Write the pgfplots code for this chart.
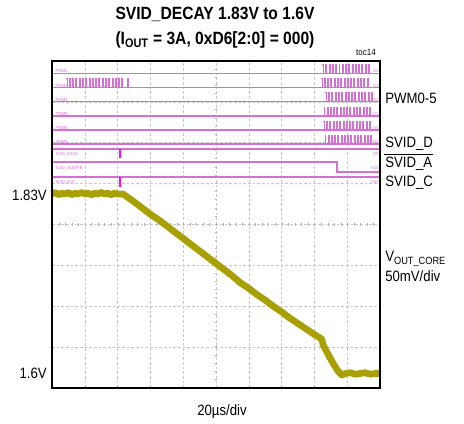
\documentclass[border=0pt]{standalone}
\usepackage{pgfplots}
\pgfplotsset{compat=1.18}
\usepackage{pgfplotstable}
\usepackage{fontspec}
\setmainfont{Liberation Sans}[FakeStretch=0.88]
\definecolor{pwm}{RGB}{212,112,212}
\definecolor{mk}{RGB}{255,0,255}
\definecolor{vout}{RGB}{168,160,5}
\definecolor{gridc}{RGB}{200,200,200}
\tikzset{tl/.style={text=pwm, font=\fontsize{3.4}{3.4}\selectfont, inner sep=0.3pt}}

% PWM pulse train (right group), times relative to burst start, us
\pgfplotstableread{
t lvl
0 1
0.6 0
2 1
2.6 0
4 1
4.6 0
6 1
6.6 0
8 1
8.6 0
10 1
10.6 0
12 1
12.6 0
14 1
14.6 0
16 1
16.6 0
18 1
18.6 0
20 1
20.6 0
22 1
22.6 0
24 1
24.6 0
26 1
26.6 0
28 1
28.6 0
}\rightpulse

% PWM2 pulse train (left group), us
\pgfplotstableread{
t lvl
8.5 1
9.1 0
10.5 1
11.1 0
12.5 1
13.1 0
14.5 1
15.1 0
16.5 1
17.1 0
18.5 1
19.1 0
20.5 1
21.1 0
22.5 1
23.1 0
24.5 1
25.1 0
26.5 1
27.1 0
28.5 1
29.1 0
30.5 1
31.1 0
32.5 1
33.1 0
34.5 1
35.1 0
36.5 1
37.1 0
38.5 1
39.1 0
40.5 1
41.1 0
42.5 1
43.1 0
45.9 1
46.5 0
}\leftpulse

% V_OUT_CORE: time (us), volts
\pgfplotstableread{
t v
0 1.830
2 1.832
4 1.829
6 1.831
8 1.830
10 1.832
12 1.829
14 1.831
16 1.830
18 1.832
20 1.830
22 1.831
24 1.829
26 1.831
28 1.830
30 1.832
32 1.830
34 1.831
36 1.829
38 1.831
40 1.830
43.3 1.830
46 1.826
50 1.820
55 1.812
60 1.804
65 1.797
70 1.789
75 1.781
80 1.773
85 1.765
90 1.757
95 1.749
100 1.741
105 1.733
110 1.725
115 1.716
120 1.709
125 1.701
130 1.694
135 1.686
140 1.679
145 1.671
150 1.664
155 1.657
160 1.650
164.6 1.644
165.2 1.637
167 1.630
169.5 1.620
172 1.611
174.4 1.603
176.8 1.598
179 1.600
182 1.601
185 1.599
188 1.600
191 1.601
194 1.599
197 1.600
200 1.600
}\vout

\begin{document}
\begin{tikzpicture}
\useasboundingbox (0,0) rectangle (348pt,318pt);

% ---------- grid + digital traces (y in divisions) ----------
\begin{axis}[
  scale only axis, width=246pt, height=245.25pt,
  at={(39pt,27pt)}, anchor=south west,
  xmin=0, xmax=200, ymin=0, ymax=8,
  xtick={0,20,...,200}, ytick={0,1,...,8},
  xticklabel=\empty, yticklabel=\empty,
  major tick length=0pt,
  grid=major,
  major grid style={gridc, dash pattern=on 2pt off 1.5pt, line width=0.4pt},
  axis line style={draw=none},
  clip=false,
]
% centre graticule tick marks
\draw[gray!60, line width=2.2pt, dash pattern=on 0.5pt off 4.42pt] (axis cs:0,4) -- (axis cs:200,4);
\draw[gray!60, line width=2.2pt, dash pattern=on 0.5pt off 5.63pt] (axis cs:100,0) -- (axis cs:100,8);

% PWM baselines
\addplot[pwm, line width=0.9pt] coordinates {(0,7.700) (200,7.700)};
\addplot[pwm, line width=0.9pt] coordinates {(0,7.347) (200,7.347)};
\addplot[pwm, line width=0.9pt] coordinates {(0,7.004) (200,7.004)};
\addplot[pwm, line width=0.9pt] coordinates {(0,6.654) (200,6.654)};
\addplot[pwm, line width=0.9pt] coordinates {(0,6.312) (200,6.312)};
\addplot[pwm, line width=0.9pt] coordinates {(0,5.969) (200,5.969)};
% PWM bursts
\addplot[pwm, line width=0.5pt, const plot] table[x expr=\thisrow{t}+164.9, y expr=7.700+0.22*\thisrow{lvl}] \rightpulse;
\addplot[pwm, line width=0.5pt, const plot] table[x expr=\thisrow{t}+164.0, y expr=7.347+0.22*\thisrow{lvl}] \rightpulse;
\addplot[pwm, line width=0.5pt, const plot] table[x expr=\thisrow{t}+166.6, y expr=7.004+0.22*\thisrow{lvl}] \rightpulse;
\addplot[pwm, line width=0.5pt, const plot] table[x expr=\thisrow{t}+165.6, y expr=6.654+0.22*\thisrow{lvl}] \rightpulse;
\addplot[pwm, line width=0.5pt, const plot] table[x expr=\thisrow{t}+165.4, y expr=6.312+0.22*\thisrow{lvl}] \rightpulse;
\addplot[pwm, line width=0.5pt, const plot] table[x expr=\thisrow{t}+166.2, y expr=5.969+0.22*\thisrow{lvl}] \rightpulse;
\addplot[pwm, line width=0.5pt, const plot] table[x=t, y expr=7.347+0.22*\thisrow{lvl}] \leftpulse;

% SVID lines
\addplot[pwm, line width=0.9pt] coordinates {(0,5.847) (200,5.847)};
\addplot[pwm, line width=0.9pt] coordinates {(0,5.529) (173.8,5.529) (173.8,5.284) (200,5.284)};
\addplot[pwm, line width=0.9pt] coordinates {(0,5.162) (200,5.162)};
\addplot[mk, line width=1.6pt] coordinates {(41.5,5.847) (41.5,5.627)};
\addplot[mk, line width=1.6pt] coordinates {(41.5,5.162) (41.5,4.917)};

% tiny trace labels
\node[tl, anchor=south west] at (axis cs:1.8,7.700) {PWM1};
\node[tl, anchor=south west] at (axis cs:1.8,7.347) {PWM2};
\node[tl, anchor=south west] at (axis cs:1.8,7.004) {PWM3};
\node[tl, anchor=south west] at (axis cs:1.8,6.654) {PWM4};
\node[tl, anchor=south west] at (axis cs:1.8,6.312) {PWM5};
\node[tl, anchor=south west] at (axis cs:1.8,5.969) {PWM6};
\node[tl, anchor=west] at (axis cs:1.8,5.725) {SVID\_DATA};
\node[tl, anchor=west] at (axis cs:1.8,5.382) {SVID\_ALERTB};
\node[tl, anchor=west] at (axis cs:1.8,5.040) {SVID\_CLK};
\node[tl, anchor=south east] at (axis cs:199.5,7.700) {D0};
\node[tl, anchor=south east] at (axis cs:199.5,7.347) {D1};
\node[tl, anchor=south east] at (axis cs:199.5,7.004) {D2};
\node[tl, anchor=south east] at (axis cs:199.5,6.654) {D3};
\node[tl, anchor=south east] at (axis cs:199.5,6.312) {D4};
\node[tl, anchor=south east] at (axis cs:199.5,5.969) {D5};
\node[tl, anchor=east] at (axis cs:199.5,5.725) {D9};
\node[tl, anchor=east] at (axis cs:199.5,5.382) {D10};
\node[tl, anchor=east] at (axis cs:199.5,5.040) {D11};
\end{axis}

% ---------- analog trace (volts) ----------
\begin{axis}[
  scale only axis, width=246pt, height=245.25pt,
  at={(39pt,27pt)}, anchor=south west,
  xmin=0, xmax=200, ymin=1.5814, ymax=2.0004,
  hide axis, clip=false,
]
\addplot[vout, line width=5pt, line join=round] table[x=t, y=v] \vout;
\draw[black, line width=1.2pt] (rel axis cs:0,1) -- (rel axis cs:0,0) -- (rel axis cs:1,0) -- (rel axis cs:1,1) -- cycle;
\end{axis}

% ---------- texts (pixel coordinates, origin top-left) ----------
\begin{scope}[shift={(0,318pt)}, x=0.75pt, y=-0.75pt]
\node[anchor=base, font=\bfseries\fontsize{13.3}{14}\selectfont, inner sep=0] at (215,19.3) {SVID\_DECAY 1.83V to 1.6V};
\node[anchor=base, font=\bfseries\fontsize{13.3}{14}\selectfont, inner sep=0] at (215,44.3) {(I\textsubscript{OUT} = 3A, 0xD6[2:0] = 000)};
\node[anchor=base, font=\fontsize{6.8}{7}\selectfont, inner sep=0] at (366,56) {toc14};
\begin{scope}[every node/.style={font=\fontsize{11.25}{12}\selectfont, inner sep=0}]
\node[anchor=base west] at (385,103.4) {PWM0-5};
\node[anchor=base west] at (385,147.4) {SVID\_D};
\node[anchor=base west] at (385,167.7) {SVID\_A};
\node[anchor=base west] at (385,186.4) {SVID\_C};
\node[anchor=base west] at (385,262) {V\textsubscript{OUT\_CORE}};
\node[anchor=base west] at (385,281.5) {50mV/div};
\node[anchor=base east] at (47,201) {1.83V};
\node[anchor=base east] at (47,378.4) {1.6V};
\node[anchor=base] at (222,415.4) {20µs/div};
\end{scope}
\draw[black, line width=0.6pt] (384,154) -- (433,154);
\end{scope}
\end{tikzpicture}
\end{document}
